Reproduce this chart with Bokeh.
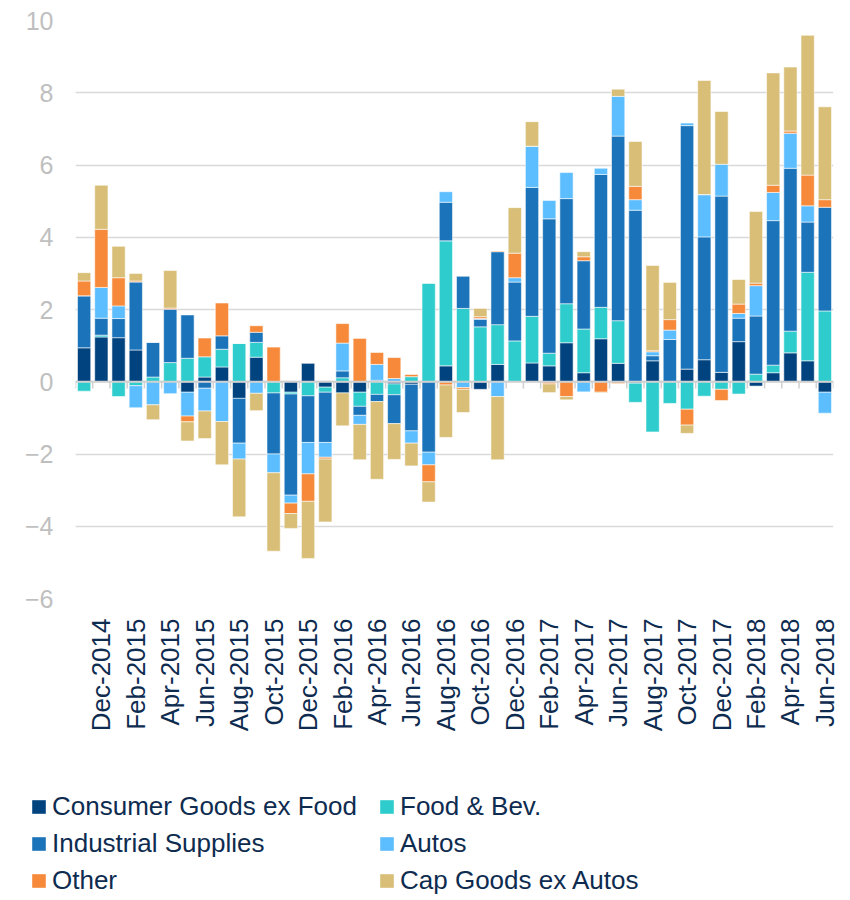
import numpy as np
from math import pi
from bokeh.plotting import figure
from bokeh.models import ColumnDataSource, Range1d, FixedTicker, Span, Legend, LegendItem
from bokeh.embed import file_html
from bokeh.resources import INLINE

months = ["Nov-2014", "Dec-2014", "Jan-2015", "Feb-2015", "Mar-2015", "Apr-2015", "May-2015",
          "Jun-2015", "Jul-2015", "Aug-2015", "Sep-2015", "Oct-2015", "Nov-2015", "Dec-2015",
          "Jan-2016", "Feb-2016", "Mar-2016", "Apr-2016", "May-2016", "Jun-2016", "Jul-2016",
          "Aug-2016", "Sep-2016", "Oct-2016", "Nov-2016", "Dec-2016", "Jan-2017", "Feb-2017",
          "Mar-2017", "Apr-2017", "May-2017", "Jun-2017", "Jul-2017", "Aug-2017", "Sep-2017",
          "Oct-2017", "Nov-2017", "Dec-2017", "Jan-2018", "Feb-2018", "Mar-2018", "Apr-2018",
          "May-2018", "Jun-2018"]

consumer = [0.94, 1.24, 1.22, 0.88, 0.00, 0.00, -0.29, 0.13, 0.41, -0.46, 0.68, 0.00, -0.29, 0.51,
            -0.15, -0.31, -0.29, 0.04, -0.06, -0.07, 0.00, 0.44, 0.00, -0.21, 0.48, 0.00, 0.52, 0.44,
            1.08, 0.25, 1.19, 0.51, -0.04, 0.58, 0.00, 0.35, 0.61, 0.26, 1.11, -0.12, 0.25, 0.80,
            0.58, -0.29]
food = [-0.26, 0.05, -0.41, -0.11, 0.13, 0.53, 0.65, 0.56, 0.49, 1.06, 0.41, -0.31, -0.05, -0.39,
        -0.14, 0.11, -0.39, -0.35, -0.30, 0.14, 2.72, 3.46, 2.03, 1.52, 1.10, 1.13, 1.29, 0.35,
        1.08, 1.21, 0.87, 1.18, -0.53, -1.39, -0.60, -0.76, -0.40, -0.21, -0.34, 0.21, 0.21, 0.60,
        2.45, 1.96]
industrial = [1.44, 0.47, 0.53, 1.88, 0.96, 1.48, 1.20, -0.18, 0.37, -1.24, 0.28, -1.69, -2.80, -1.29,
              -1.39, 0.19, -0.25, -0.20, -0.80, -1.29, -1.95, 1.07, 0.89, 0.21, 2.02, 1.63, 3.57, 3.72,
              2.91, 1.89, 3.68, 5.11, 4.75, 0.14, 1.17, 6.74, 3.40, 4.88, 0.65, 1.61, 4.00, 4.51,
              1.39, 2.87]
autos = [0.00, 0.85, 0.35, -0.61, -0.64, -0.33, -0.66, -0.63, -1.10, -0.44, -0.32, -0.52, -0.22, -0.87,
         -0.41, 0.77, -0.25, 0.44, 0.09, -0.34, -0.35, 0.29, -0.16, 0.02, -0.41, 0.12, 1.14, 0.51,
         0.72, -0.28, 0.17, 1.10, 0.29, 0.11, 0.26, 0.07, 1.17, 0.88, 0.13, 0.84, 0.78, 0.97,
         0.45, -0.58]
other = [0.41, 1.61, 0.78, 0.03, 0.00, 0.03, -0.16, 0.52, 0.91, 0.00, 0.18, 0.96, -0.29, -0.76,
         -0.05, 0.54, 1.20, 0.33, 0.58, 0.06, -0.47, -0.09, -0.05, 0.05, 0.02, 0.68, 0.00, -0.06,
         -0.41, 0.11, -0.29, -0.05, 0.37, 0.03, 0.29, -0.44, 0.00, -0.31, 0.26, 0.07, 0.20, 0.06,
         0.85, 0.21]
cap_goods = [0.23, 1.22, 0.87, 0.21, -0.41, 1.04, -0.53, -0.76, -1.20, -1.60, -0.48, -2.17, -0.41, -1.58,
             -1.74, -0.91, -0.98, -2.15, -0.99, -0.63, -0.56, -1.45, -0.64, 0.23, -1.75, 1.26, 0.68, -0.24,
             -0.09, 0.14, -0.02, 0.20, 1.24, 2.36, 1.03, -0.23, 3.16, 1.46, 0.68, 1.98, 3.11, 1.77,
             3.87, 2.57]

series_names = ["Consumer Goods ex Food", "Food & Bev.", "Industrial Supplies", "Autos",
                "Other", "Cap Goods ex Autos"]
series_values = [consumer, food, industrial, autos, other, cap_goods]
series_colors = ["#00437F", "#2ECCCC", "#1B74BA", "#5CBDFF", "#F68A3A", "#D8BE76"]
y_ticks = [-6, -4, -2, 0, 2, 4, 6, 8, 10]

NAVY_TEXT = "#0E2B50"
FONT = "Liberation Sans"
TOTAL_W = 843

n = len(months)
x = np.arange(n)

p = figure(frame_width=758, frame_height=578,
           x_range=Range1d(-0.5, n - 0.5), y_range=Range1d(-6, 10),
           output_backend="svg", toolbar_location=None,
           min_border_left=75, min_border_top=20, min_border_right=10, min_border_bottom=140)
p.outline_line_color = None

# zero axis tick marks (between categories)
bounds = np.arange(n + 1) - 0.5
p.segment(x0=bounds, y0=np.zeros(n + 1), x1=bounds, y1=np.full(n + 1, -0.19),
          line_color="#D0D0D0", line_width=1.5)

pos_base = np.zeros(n)
neg_base = np.zeros(n)
for name, vals, col in zip(series_names, series_values, series_colors):
    v = np.array(vals, dtype=float)
    bottom = np.where(v >= 0, pos_base, neg_base)
    top = bottom + v
    pos_base = np.where(v >= 0, pos_base + v, pos_base)
    neg_base = np.where(v < 0, neg_base + v, neg_base)
    src = ColumnDataSource(dict(x=x, bottom=bottom, top=top))
    p.vbar(x="x", bottom="bottom", top="top", width=0.77, source=src,
           fill_color=col, line_color="white", line_width=0.8, line_alpha=0.7)

p.add_layout(Span(location=0, dimension="width", line_color="#D0D0D0", line_width=2))

# axes
p.yaxis.ticker = FixedTicker(ticks=y_ticks)
p.yaxis.axis_line_color = None
p.yaxis.major_tick_line_color = None
p.yaxis.minor_tick_line_color = None
p.yaxis.major_tick_out = 0
p.yaxis.major_tick_in = 0
p.yaxis.major_label_text_font = FONT
p.yaxis.major_label_text_font_size = "25px"
p.yaxis.major_label_text_color = "#BFBFBF"
p.yaxis.major_label_standoff = 22

tick_idx = list(range(1, n, 2))
p.xaxis.ticker = FixedTicker(ticks=tick_idx)
p.xaxis.major_label_overrides = {int(i): months[i] for i in tick_idx}
p.xaxis.major_label_orientation = pi / 2
p.xaxis.axis_line_color = None
p.xaxis.major_tick_line_color = None
p.xaxis.minor_tick_line_color = None
p.xaxis.major_tick_out = 0
p.xaxis.major_tick_in = 0
p.xaxis.major_label_text_font = FONT
p.xaxis.major_label_text_font_size = "26px"
p.xaxis.major_label_text_color = NAVY_TEXT
p.xaxis.major_label_standoff = 20

p.xgrid.grid_line_color = None
p.ygrid.grid_line_color = "#D9D9D9"
p.ygrid.grid_line_width = 1.3

# legend panel: separate root figure below the chart (not frame-aligned)
q = figure(width=TOTAL_W, height=158, x_range=Range1d(0, 1), y_range=Range1d(0, 1),
           output_backend="svg", toolbar_location=None,
           min_border_left=0, min_border_right=0, min_border_top=0, min_border_bottom=0,
           x_axis_type=None, y_axis_type=None)
q.outline_line_color = None
q.xgrid.grid_line_color = None
q.ygrid.grid_line_color = None
swatches = []
for col in series_colors:
    swatches.append(q.vbar(x=[0.5], bottom=[0.5], top=[0.5], width=0.0,
                           fill_color=col, line_color=None))

def make_legend(idxs, loc):
    items = [LegendItem(label=series_names[i], renderers=[swatches[i]]) for i in idxs]
    return Legend(items=items, location=loc, padding=0, margin=0, spacing=6,
                  glyph_width=17, glyph_height=17, label_standoff=5,
                  label_text_font=FONT, label_text_font_size="26px",
                  label_text_color=NAVY_TEXT, border_line_alpha=0,
                  background_fill_alpha=0)

q.add_layout(make_legend([0, 2, 4], (30, 0)))
q.add_layout(make_legend([1, 3, 5], (378, 0)))

open("out.html", "w").write(file_html([p, q], INLINE))
